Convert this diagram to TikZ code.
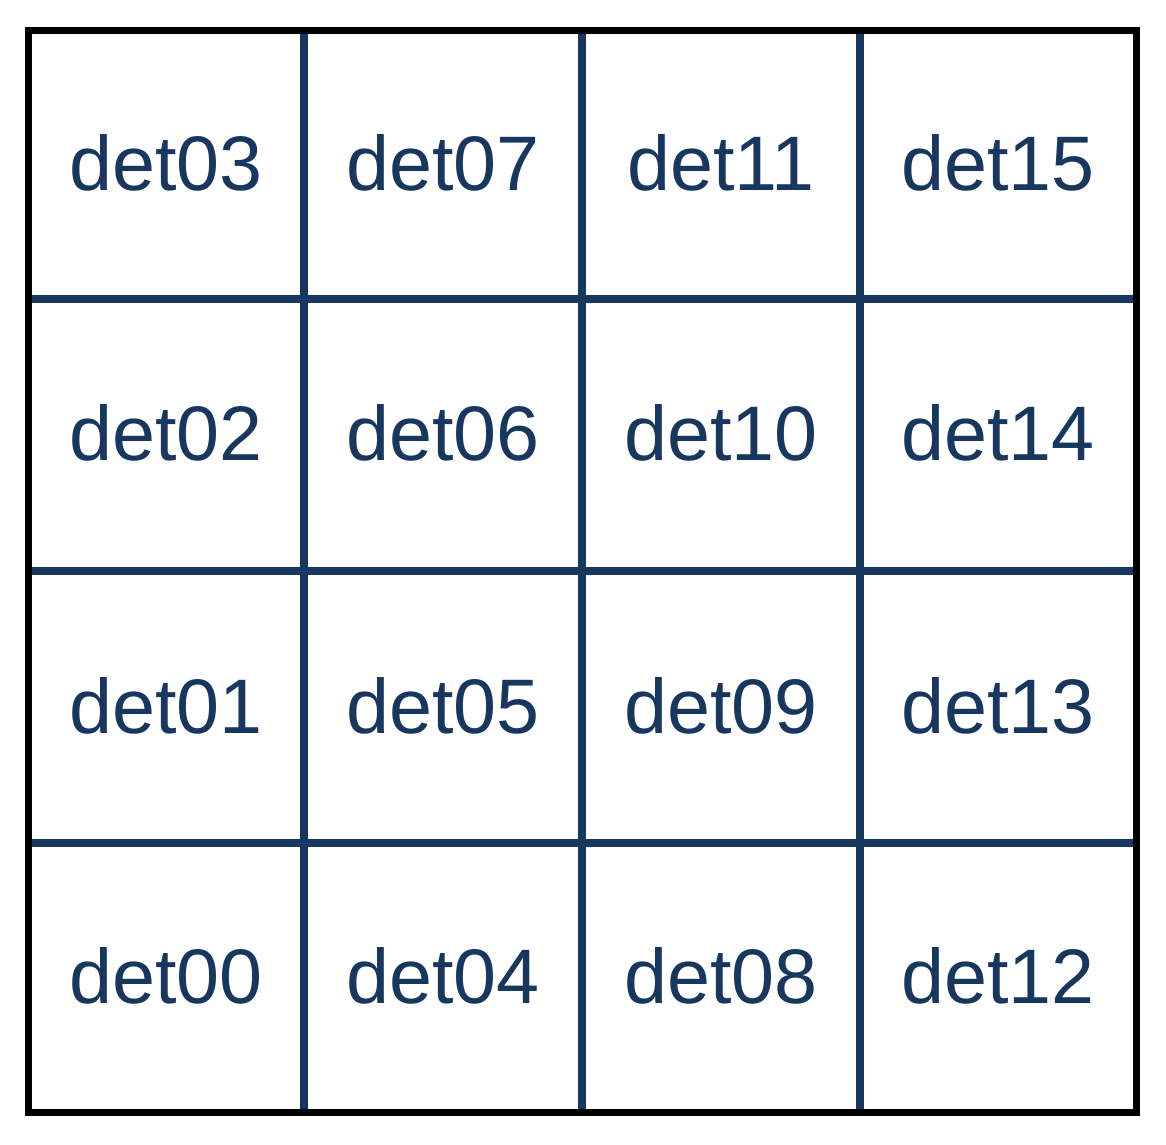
\documentclass[tikz,border=0pt]{standalone}
\usepackage{fontspec}
\setmainfont{Liberation Sans}
\definecolor{navy}{HTML}{17375E}
\begin{document}
\begin{tikzpicture}[x=0.02cm,y=-0.02cm,
  gridline/.style={draw=navy,line width=4.6pt},
  outerline/.style={draw=black,line width=4pt},
  lbl/.style={text=navy,font=\fontsize{44}{44}\selectfont,anchor=base,inner sep=0pt}]
\useasboundingbox (0,0) rectangle (1166,1144);
\fill[white] (0,0) rectangle (1166,1144);
% grid lines
\foreach \x in {304,582,860} \draw[gridline] (\x,30.5) -- (\x,1112.5);
\foreach \y in {299,571,843} \draw[gridline] (28.5,\y) -- (1136.5,\y);
\draw[outerline] (28.5,30.5) rectangle (1136.5,1112.5);
% labels
\def\xs{{166,443,721,998}}
\def\ys{{190,460,733,1003}}
\foreach \c in {0,1,2,3}{
  \foreach \r in {0,1,2,3}{
    \pgfmathtruncatemacro{\n}{\c*4+3-\r}
    \pgfmathsetmacro{\xx}{\xs[\c]}
    \pgfmathsetmacro{\yy}{\ys[\r]}
    \ifnum\n<10
      \node[lbl] (det0\n) at (\xx,\yy) {det0\n};
    \else
      \node[lbl] (det\n) at (\xx,\yy) {det\n};
    \fi
  }
}
\end{tikzpicture}
\end{document}
